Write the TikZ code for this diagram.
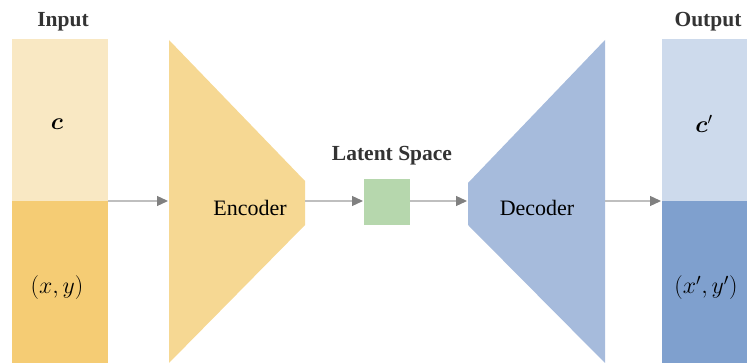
\documentclass[tikz,border=0pt]{standalone}
\usepackage{amsmath,bm}
\usepackage{fontspec}
\setmainfont{Liberation Serif}
\usetikzlibrary{arrows.meta}
\definecolor{inTop}{HTML}{F9E8C3}
\definecolor{inBot}{HTML}{F5CC74}
\definecolor{encC}{HTML}{F6D893}
\definecolor{latC}{HTML}{B6D7AD}
\definecolor{decC}{HTML}{A6BBDC}
\definecolor{outTop}{HTML}{CDDAEC}
\definecolor{outBot}{HTML}{7FA0CE}
\definecolor{lineC}{HTML}{BFBFBF}
\definecolor{tipC}{HTML}{808080}
\definecolor{titleC}{HTML}{333333}
\tikzset{
  conn/.style={draw=lineC, line width=1.3pt, -{Triangle[length=11pt,width=10pt,color=tipC]}, shorten >=1pt},
  lbl/.style={font=\rmfamily\fontsize{22}{26}\selectfont, inner sep=0pt},
  mlbl/.style={scale=1.15, font=\rmfamily\fontsize{22}{26}\selectfont, inner sep=0pt},
  ttl/.style={font=\rmfamily\fontsize{21.5}{25}\selectfont\bfseries, text=titleC, inner sep=0pt},
}
\begin{document}
\begin{tikzpicture}[x=1pt,y=-1pt]
\useasboundingbox (0,0) rectangle (747,363);
% input
\fill[inTop] (12,39) rectangle (108,201);
\fill[inBot] (12,201) rectangle (108,363);
% encoder
\fill[encC] (169,40) -- (305,181) -- (305,225) -- (169,363) -- cycle;
% latent
\fill[latC] (364,179) rectangle (410,225);
% decoder
\fill[decC] (605,40) -- (468,183) -- (468,225) -- (605,363) -- cycle;
% output
\fill[outTop] (662,39) rectangle (747,201);
\fill[outBot] (662,201) rectangle (747,363);

\coordinate (inR) at (108,201);
\coordinate (encL) at (169,201);
\coordinate (encR) at (305,201);
\coordinate (latL) at (364,201);
\coordinate (latR) at (410,201);
\coordinate (decL) at (468,201);
\coordinate (decR) at (605,201);
\coordinate (outL) at (662,201);

\draw[conn] (inR) -- (encL);
\draw[conn] (encR) -- (latL);
\draw[conn] (latR) -- (decL);
\draw[conn] (decR) -- (outL);

\node[ttl] (tin) at (63,22) {Input};
\node[ttl] (tlat) at (392,156) {Latent Space};
\node[ttl] (tout) at (708,22) {Output};
\node[lbl] (enc) at (250,208) {Encoder};
\node[lbl] (dec) at (537,208) {Decoder};
\node[mlbl] (c) at (57,124) {$\bm{c}$};
\node[mlbl] (xy) at (57,288) {$(x,y)$};
\node[mlbl] (cp) at (704,124) {$\bm{c}'$};
\node[mlbl] (xyp) at (706,288) {$(x',y')$};
\end{tikzpicture}
\end{document}
